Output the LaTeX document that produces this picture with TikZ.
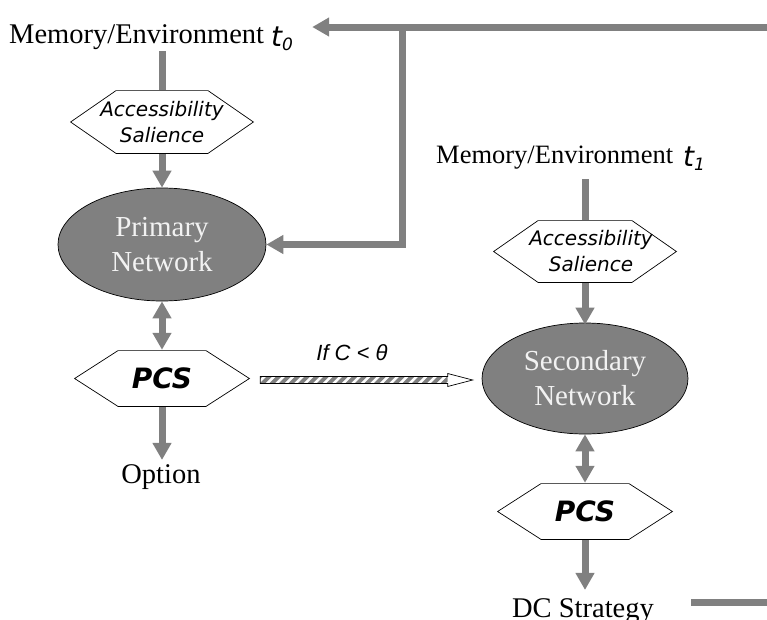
\documentclass[tikz,border=0pt]{standalone}
\usepackage{fontspec}
\setmainfont{Liberation Serif}
\newfontfamily\vsans{DejaVu Sans}
\newfontfamily\asans{Liberation Sans}
\usetikzlibrary{arrows.meta,calc,shapes.geometric}
\definecolor{arrowgray}{HTML}{808080}
\definecolor{netfill}{HTML}{808080}
\definecolor{nettext}{HTML}{F2F2F2}
\newcommand\tvar[2]{{\vsans\itshape\fontsize{28}{28}\selectfont\raisebox{-3pt}{t}\raisebox{-7pt}{\fontsize{17}{17}\selectfont #2}}}
\begin{document}
\begin{tikzpicture}[x=1pt,y=-1pt,
  serifbig/.style={font=\fontsize{28.5}{34}\selectfont, inner sep=0pt},
  hexa/.style n args={3}{shape=rectangle, inner sep=0pt, align=center,
    minimum width=#1pt, minimum height=#2pt,
    path picture={\draw[line width=0.7pt, fill=white]
      ([xshift=0.6pt]path picture bounding box.west)
      -- ([xshift=#3pt,yshift=-0.6pt]path picture bounding box.north west)
      -- ([xshift=-#3pt,yshift=-0.6pt]path picture bounding box.north east)
      -- ([xshift=-0.6pt]path picture bounding box.east)
      -- ([xshift=-#3pt,yshift=0.6pt]path picture bounding box.south east)
      -- ([xshift=#3pt,yshift=0.6pt]path picture bounding box.south west)
      -- cycle;}},
  acctext/.style={font=\vsans\itshape\fontsize{20}{26}\selectfont},
  pcstext/.style={font=\vsans\bfseries\itshape\fontsize{28}{30}\selectfont},
  network/.style={ellipse, draw=black, line width=0.7pt, fill=netfill, text=nettext,
    inner sep=0pt, align=center, font=\fontsize{29}{35}\selectfont},
  bar/.style={draw=arrowgray, line width=7pt},
  flow/.style={bar, -{Triangle[length=17pt,width=18pt]}},
  dflow/.style={bar, {Triangle[length=17pt,width=18pt]}-{Triangle[length=17pt,width=18pt]}},
]
\useasboundingbox (0,0) rectangle (767,619);
\clip (0,0) rectangle (767,619);

% left column
\node[serifbig, anchor=base west] (mem0) at (9,43) {Memory/Environment \tvar{t}{0}};
\node[hexa={184}{64}{46}, acctext] (acc1) at (162,122) {Accessibility\\Salience};
\node[network, minimum width=208pt, minimum height=113pt] (net1) at (162,244.5) {Primary\\Network};
\node[hexa={176}{57}{44}, pcstext] (pcs1) at (162,378.5) {PCS};
\node[serifbig, anchor=base] (opt) at (161,483) {Option};

% right column
\node[font=\fontsize{26.5}{30}\selectfont, inner sep=0pt, anchor=base west] (mem1) at (436,163) {Memory/Environment\hspace{10pt}\tvar{t}{1}};
\node[hexa={184}{63}{45}, acctext] (acc2) at (585,251.5) {\hspace*{12pt}Accessibility\\\hspace*{12pt}Salience};
\node[network, minimum width=206pt, minimum height=111pt] (net2) at (585,378.5) {Secondary\\Network};
\node[hexa={176}{57}{44}, pcstext] (pcs2) at (585,511.5) {PCS};
\node[serifbig, anchor=base] (dc) at (583,617) {DC Strategy};

% vertical connectors
\draw[bar] ($(acc1.north |- mem0.south)+(0,1)$) -- (acc1.north);
\draw[flow] (acc1.south) -- (net1.north);
\draw[dflow] (net1.south) -- (pcs1.north);
\draw[flow] (pcs1.south) -- ([yshift=4pt]pcs1.south |- opt.north);
\draw[bar] (585,179) -- (acc2.north);
\draw[flow] (acc2.south) -- ([yshift=-2pt]net2.north);
\draw[dflow] (net2.south) -- (pcs2.north);
\draw[flow] (pcs2.south) -- ([yshift=8pt]pcs2.south |- dc.north);

% feedback loop
\coordinate (fb1) at (691,602.5);
\coordinate (fb2) at (800,602.5);
\coordinate (fb3) at (800,27);
\coordinate (j) at (402,27);
\draw[flow] (fb1) -- (fb2) -- (fb3) -- ([xshift=19pt]mem0.east |- fb3);
\draw[flow] (j) -- (j |- net1.east) -- (net1.east);

% striped conditional arrow
\coordinate (sa) at ($(pcs1.east)+(10,1.5)$);
\coordinate (sb) at ($(net2.west)+(-9,1.5)$);
\fill[white] ($(sa)+(0,-3.5)$) -- ($(sb)+(-25,-3.5)$) -- ($(sb)+(-25,-6.5)$) -- (sb)
  -- ($(sb)+(-25,6.5)$) -- ($(sb)+(-25,3.5)$) -- ($(sa)+(0,3.5)$) -- cycle;
\begin{scope}
  \clip ($(sa)+(0,-3.5)$) rectangle ($(sb)+(-25,3.5)$);
  \foreach \i in {0,...,22}
    \fill[arrowgray] ($(sa)+(\i*9.5-10,3.5)$) -- ++(5.5,0) -- ++(7,-7) -- ++(-5.5,0) -- cycle;
\end{scope}
\draw[line width=0.7pt] ($(sa)+(0,-3.5)$) -- ($(sb)+(-25,-3.5)$) -- ($(sb)+(-25,-6.5)$) -- (sb)
  -- ($(sb)+(-25,6.5)$) -- ($(sb)+(-25,3.5)$) -- ($(sa)+(0,3.5)$) -- cycle;
\node[font=\asans\itshape\fontsize{22}{22}\selectfont, inner sep=0pt] (ifc) at (352,353) {If C < θ};
\end{tikzpicture}
\end{document}
